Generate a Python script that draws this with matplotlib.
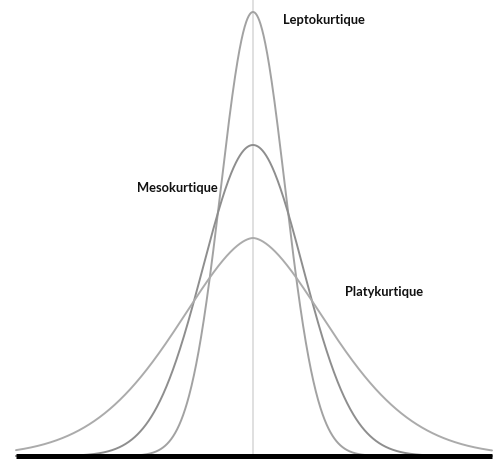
import matplotlib
matplotlib.use("Agg")
import matplotlib.pyplot as plt
import numpy as np

# Three symmetric curves sharing the same centre, differing in peakedness
names = ["Leptokurtique", "Mesokurtique", "Platykurtique"]
peaks = [444, 311, 218]          # curve height at the centre
spreads = [32, 50, 74]           # scale (width) of each curve
shapes = [2.0, 2.0, 1.7]         # tail exponent of each curve
colors = ["#a2a2a2", "#8e8e8e", "#ababab"]

# Label anchors (left edge, vertical centre)
label_x = [30, -116, 92]
label_y = [436, 268, 164]

x_min, x_max = -237, 239
x = np.linspace(x_min, x_max, 1200)

fig = plt.figure(figsize=(5.02, 4.59), dpi=100)
ax = fig.add_axes([0, 0, 1, 1])
ax.set_xlim(-253, 249)
ax.set_ylim(-3, 456)
ax.axis("off")

# centre line
ax.plot([0, 0], [0, 460], color="#dadada", lw=1.2, zorder=1)

for name, a, s, p, c in zip(names, peaks, spreads, shapes, colors):
    y = a * np.exp(-0.5 * np.abs(x / s) ** p)
    ax.plot(x, y, color=c, lw=1.4, zorder=2, solid_capstyle="round")

# baseline
ax.plot([x_min, x_max], [0, 0], color="black", lw=3.6, zorder=3,
        solid_capstyle="butt")

for name, lx, ly in zip(names, label_x, label_y):
    ax.text(lx, ly, name, ha="left", va="center", fontsize=9.3,
            color="#111111", fontweight="bold",
            family=["Lato", "DejaVu Sans"])

fig.savefig("out.png", dpi=100)
